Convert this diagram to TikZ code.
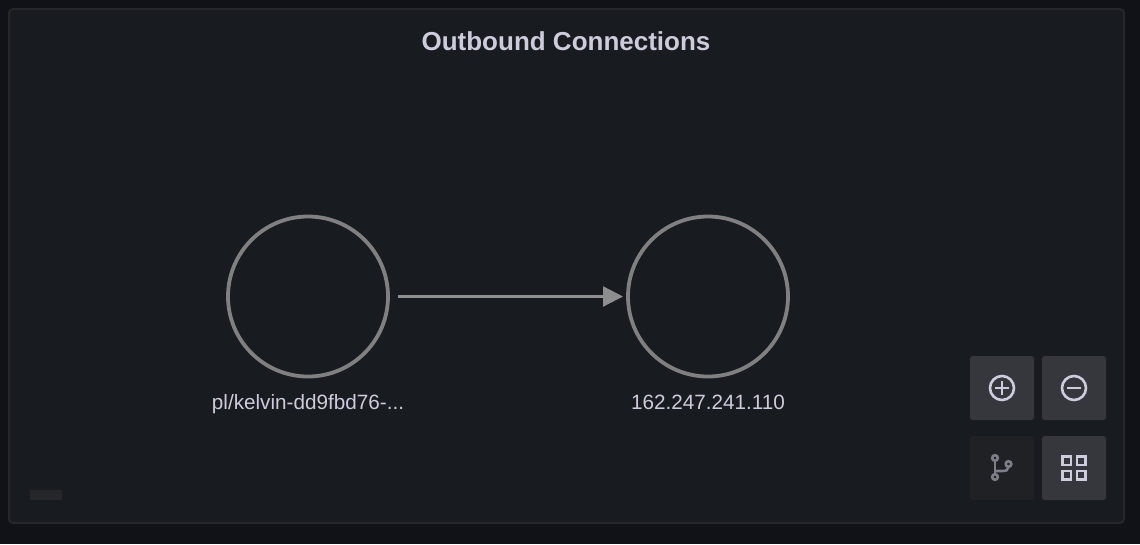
\documentclass[tikz,border=0pt]{standalone}
\usepackage{fontspec}
\setmainfont{Liberation Sans}
\usetikzlibrary{arrows.meta,positioning}
\definecolor{pagebg}{HTML}{111217}
\definecolor{panelbg}{HTML}{181B1F}
\definecolor{panelline}{HTML}{25272B}
\definecolor{titlecol}{HTML}{CCCCDC}
\definecolor{ringcol}{HTML}{808080}
\definecolor{arrowcol}{HTML}{8E8E8E}
\definecolor{btncol}{HTML}{35373C}
\definecolor{btnoff}{HTML}{1F2125}
\definecolor{iconoff}{HTML}{7E7E88}
\tikzset{
    hostnode/.style={
           circle,
           draw=ringcol,
           line width=3.8pt,
           minimum size=160pt,
           inner sep=0pt,
           },
    hostlabel/.style={
           text=titlecol,
           font=\fontsize{20.7}{24}\selectfont,
           text height=15pt,
           text depth=4pt,
           inner sep=0pt,
           },
    btnnode/.style={
           rectangle,
           rounded corners=2.5pt,
           fill=btncol,
           minimum size=64pt,
           inner sep=0pt,
           },
}

\begin{document}
\begin{tikzpicture}[
  x=1pt,y=-1pt,
  node distance=400pt,
  icon/.style={draw=titlecol,line width=2.6pt},
  iconmuted/.style={draw=iconoff,line width=2.6pt}]
\fill[pagebg] (0,0) rectangle (1140,544);
\useasboundingbox (0,0) rectangle (1140,544);
\draw[fill=panelbg,draw=panelline,line width=2pt,rounded corners=4pt] (9,9) rectangle (1124,523);

\node[text=titlecol,font=\bfseries\fontsize{26}{32}\selectfont,inner sep=0pt](title) at (566,41){Outbound Connections};

\node[hostnode](source) at (308,296.5){};
\node[hostnode,right of=source](target){};
\node[hostlabel,below of=source,node distance=107pt](sourcelabel){pl/kelvin-dd9fbd76-...};
\node[hostlabel,below of=target,node distance=107pt](targetlabel){162.247.241.110};

\coordinate[right of=source,node distance=90pt](edgestart);
\coordinate[left of=target,node distance=85pt](edgeend);
\draw[arrowcol,line width=2.3pt,-{Triangle[length=20pt,width=20pt]}] (edgestart) -- (edgeend);

\node[btnnode](zoomin) at (1002,388){};
\node[btnnode,right of=zoomin,node distance=72pt](zoomout){};
\node[btnnode,fill=btnoff,below of=zoomin,node distance=80pt](graphview){};
\node[btnnode,below of=zoomout,node distance=80pt](gridview){};

% zoom icons
\draw[icon] (1002,388) circle (12);
\draw[icon] (995,388) -- (1009,388) (1002,381) -- (1002,395);
\draw[icon] (1074,388) circle (12);
\draw[icon] (1067,388) -- (1081,388);

% branch icon
\draw[iconmuted] (995,458) circle (2.8) (995,477) circle (2.8) (1008.5,464) circle (2.8);
\draw[iconmuted] (995,461) -- (995,474);
\draw[iconmuted] (995,471) -- (1002,471) .. controls (1006,471) and (1008.5,470) .. (1008.5,467);

% grid icon
\foreach \gx in {1062.2,1077}
  \foreach \gy in {456.2,471}
    \draw[icon] (\gx,\gy) rectangle ++(8.6,8.6);

\fill[panelline] (30,490) rectangle (62,500);
\end{tikzpicture}
\end{document}
